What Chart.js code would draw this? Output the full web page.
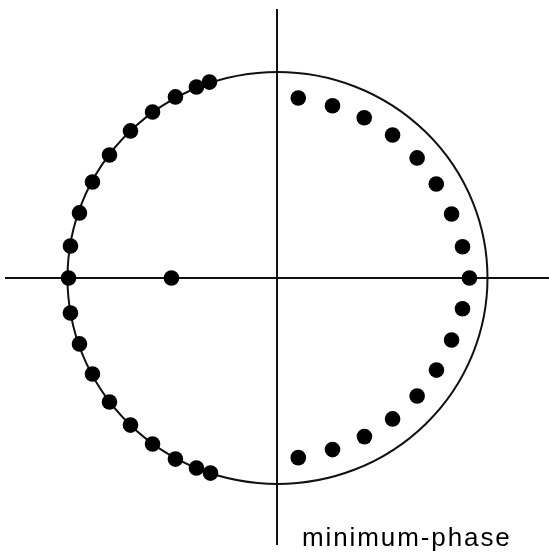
<!DOCTYPE html>
<html>
<head>
<meta charset="utf-8">
<script src="https://cdn.jsdelivr.net/npm/chart.js@4.4.1/dist/chart.umd.min.js"></script>
<style>
  html, body { margin: 0; padding: 0; background: #fff; }
  #wrap { width: 549px; height: 553px; position: relative; }
</style>
</head>
<body>
<div id="wrap"><canvas id="zplane"></canvas></div>
<script>
"use strict";

// zeros of the minimum-phase filter (unit circle has radius 1)
const unitZerosRe = [-0.324, -0.386, -0.486, -0.595, -0.700, -0.800, -0.881, -0.943, -0.986, -0.995,
                     -0.986, -0.943, -0.881, -0.800, -0.700, -0.595, -0.486, -0.386, -0.319];
const unitZerosIm = [0.951, 0.927, 0.879, 0.806, 0.714, 0.597, 0.466, 0.316, 0.155, 0.000,
                     -0.170, -0.320, -0.466, -0.602, -0.714, -0.806, -0.879, -0.922, -0.947];

const innerZerosRe = [0.099, 0.262, 0.413, 0.548, 0.665, 0.756, 0.829, 0.881, 0.914,
                      0.881, 0.829, 0.757, 0.665, 0.548, 0.414, 0.262, 0.099];
const innerZerosIm = [0.874, 0.836, 0.778, 0.694, 0.583, 0.456, 0.311, 0.152, 0.000,
                      -0.149, -0.301, -0.447, -0.573, -0.684, -0.770, -0.833, -0.872];

const realZeroRe = [-0.505];
const realZeroIm = [0];

const circleRadius = 1;
const caption = "minimum-phase";

// view window of the z-plane
const xRange = [-1.2976, 1.2929];
const yRange = [-1.2961, 1.3058];

function toPoints(re, im) {
  return re.map((v, i) => ({ x: v, y: im[i] }));
}

// unit circle, drawn through the scales so it lines up with the zeros
const unitCircle = {
  id: "unitCircle",
  beforeDatasetsDraw(chart) {
    const { ctx, scales: { x, y } } = chart;
    const cx = x.getPixelForValue(0);
    const cy = y.getPixelForValue(0);
    const rx = x.getPixelForValue(circleRadius) - cx;
    const ry = cy - y.getPixelForValue(circleRadius);
    ctx.save();
    ctx.beginPath();
    ctx.ellipse(cx, cy, rx, ry, 0, 0, Math.PI * 2);
    ctx.lineWidth = 2;
    ctx.strokeStyle = "#111";
    ctx.stroke();
    ctx.restore();
  }
};

const captionText = {
  id: "captionText",
  afterDraw(chart) {
    const { ctx } = chart;
    ctx.save();
    ctx.font = "26px 'Liberation Sans', Arial, sans-serif";
    ctx.letterSpacing = "1.9px";
    ctx.fillStyle = "#000";
    ctx.textBaseline = "alphabetic";
    ctx.fillText(caption, 302, 546);
    ctx.restore();
  }
};

const axisColor = (c) => (c.tick && c.tick.value === 0 ? "#111" : "rgba(0,0,0,0)");

const dotStyle = {
  type: "scatter",
  pointRadius: 7.8,
  pointHoverRadius: 7.8,
  pointBackgroundColor: "#000",
  pointBorderWidth: 0,
  borderWidth: 0,
  showLine: false
};

new Chart(document.getElementById("zplane"), {
  type: "scatter",
  data: {
    datasets: [
      Object.assign({ label: "on circle", data: toPoints(unitZerosRe, unitZerosIm) }, dotStyle),
      Object.assign({ label: "inside", data: toPoints(innerZerosRe, innerZerosIm) }, dotStyle),
      Object.assign({ label: "real", data: toPoints(realZeroRe, realZeroIm) }, dotStyle)
    ]
  },
  options: {
    responsive: true,
    maintainAspectRatio: false,
    animation: false,
    layout: { autoPadding: false, padding: { left: 5, top: 9, right: 0, bottom: 8 } },
    plugins: { legend: { display: false }, tooltip: { enabled: false } },
    scales: {
      x: {
        type: "linear",
        min: xRange[0],
        max: xRange[1],
        ticks: { display: false, stepSize: 1 },
        border: { display: false },
        grid: { color: axisColor, lineWidth: 2, drawTicks: false }
      },
      y: {
        type: "linear",
        min: yRange[0],
        max: yRange[1],
        ticks: { display: false, stepSize: 1 },
        border: { display: false },
        grid: { color: axisColor, lineWidth: 2, drawTicks: false }
      }
    }
  },
  plugins: [unitCircle, captionText]
});
</script>
</body>
</html>
